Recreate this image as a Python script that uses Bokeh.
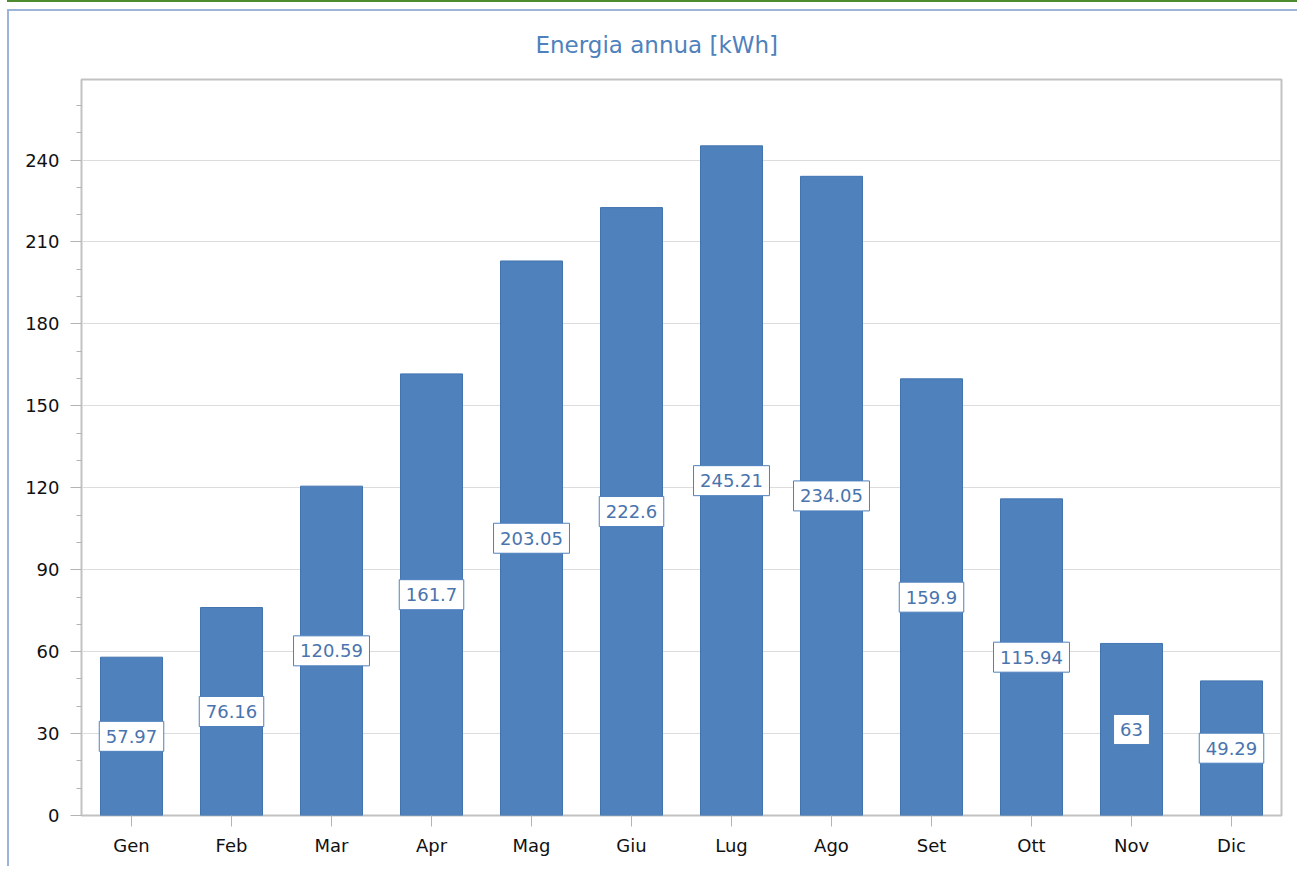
from bokeh.plotting import figure
from bokeh.models import ColumnDataSource, SingleIntervalTicker, Range1d, FactorRange
from bokeh.core.properties import value
from bokeh.embed import file_html
from bokeh.resources import INLINE

# ---- data ----
months = ["Gen", "Feb", "Mar", "Apr", "Mag", "Giu", "Lug", "Ago", "Set", "Ott", "Nov", "Dic"]
energy = [57.97, 76.16, 120.59, 161.7, 203.05, 222.6, 245.21, 234.05, 159.9, 115.94, 63, 49.29]
title_text = "Energia annua [kWh]"

labels = [f"{v:g}" for v in energy]
mids = [v / 2 for v in energy]
# label box width from the text (digits ~11.45px, dot ~5.7px at 18px DejaVu Sans)
box_w = [sum(5.7 if c == "." else 11.45 for c in s) + 13 for s in labels]
src = ColumnDataSource(dict(month=months, energy=energy, label=labels, mid=mids, bw=box_w))

FONT = "DejaVu Sans"
BLUE = "#4F81BD"

p = figure(
    x_range=FactorRange(*months, range_padding=0),
    y_range=Range1d(0, 269.5),
    width=1290, height=857,
    output_backend="svg", toolbar_location=None,
    min_border_left=72, min_border_right=18,
    min_border_top=68, min_border_bottom=53,
    background_fill_color="white", border_fill_color="white",
)
p.styles = {
    "margin-left": "7px", "margin-top": "9px",
    "border-left": "2px solid #9CB4D8", "border-top": "2px solid #9CB4D8",
    "box-shadow": "0 -7px 0 0 white, 0 -9px 0 0 #4E8A2E",
}

p.vbar(x="month", top="energy", width=0.62, source=src,
       fill_color=BLUE, line_color="#4274B0", line_width=1)

p.rect(x="month", y="mid", width="bw", height=30, width_units="screen",
       height_units="screen", source=src, fill_color="white",
       line_color=BLUE, line_width=1)
p.text(x="month", y="mid", text="label", source=src,
       text_align="center", text_baseline="middle",
       text_font_size="18px", text_font=value(FONT), text_color="#4A74AD")

# title
p.title.text = title_text
p.title.text_font = FONT
p.title.text_font_size = "23px"
p.title.text_font_style = "normal"
p.title.text_color = BLUE
p.title.align = "left"
p.title.offset = 454
p.title.vertical_align = "top"
p.title.standoff = 39

# frame / grid
p.outline_line_color = "#C2C2C2"
p.outline_line_width = 2
p.xgrid.grid_line_color = None
p.ygrid.grid_line_color = "#DCDCDC"
p.ygrid.grid_line_width = 1

# y axis
p.yaxis.ticker = SingleIntervalTicker(interval=30, num_minor_ticks=3)
p.yaxis.axis_line_color = None
p.yaxis.major_tick_in = 0
p.yaxis.major_tick_out = 11
p.yaxis.minor_tick_in = 0
p.yaxis.minor_tick_out = 5
p.yaxis.major_tick_line_color = "#B4B4B4"
p.yaxis.minor_tick_line_color = "#B4B4B4"
p.yaxis.major_label_text_font = FONT
p.yaxis.major_label_text_font_size = "18px"
p.yaxis.major_label_text_color = "#111111"
p.yaxis.major_label_standoff = 11

# x axis
p.xaxis.axis_line_color = None
p.xaxis.major_tick_in = 0
p.xaxis.major_tick_out = 11
p.xaxis.major_tick_line_color = "#B4B4B4"
p.xaxis.major_label_text_font = FONT
p.xaxis.major_label_text_font_size = "18px"
p.xaxis.major_label_text_color = "#111111"
p.xaxis.major_label_standoff = 8

open("out.html", "w").write(file_html(p, INLINE))
